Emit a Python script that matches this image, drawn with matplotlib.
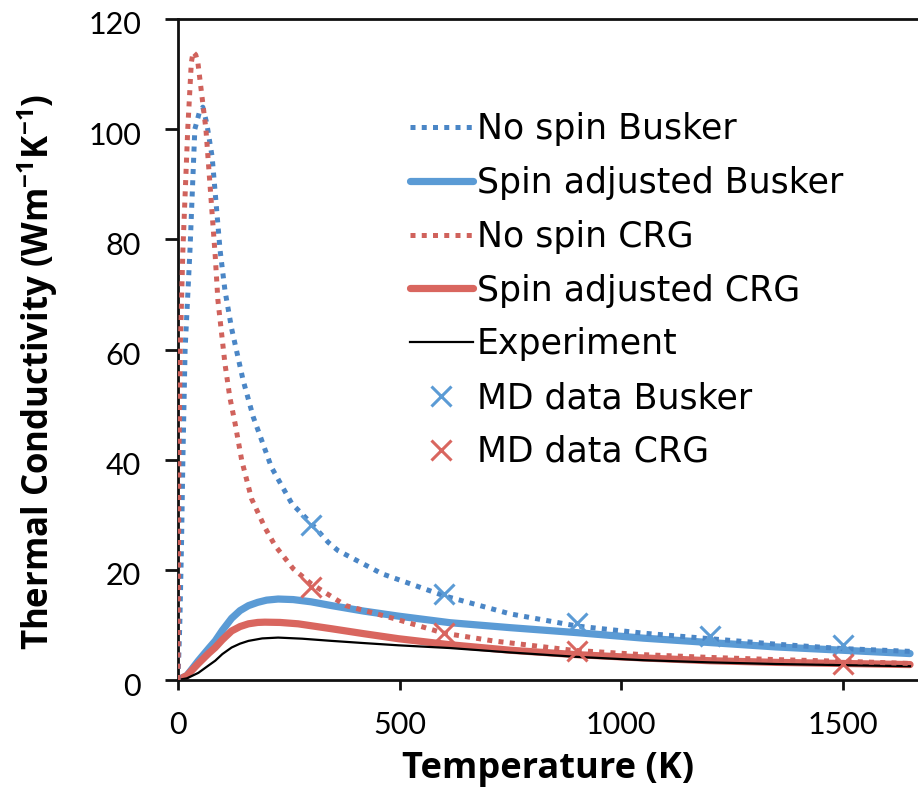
import matplotlib
matplotlib.use("Agg")
import matplotlib.pyplot as plt
import matplotlib.transforms as mtransforms

# ---- data ----
T_ns_busker = [0, 4, 8, 11, 16, 27, 38, 48, 56, 65, 77, 95, 106, 121, 147, 170, 211, 257, 300,
               339, 361, 460, 600, 750, 900, 1050, 1200, 1350, 1500, 1652]
K_ns_busker = [0, 10, 25, 40, 60, 78, 100, 103, 104, 101, 95, 78, 70.7, 63.8, 54.4, 47.7, 38.6, 32,
               28.5, 25, 23.5, 19.3, 15.3, 12.0, 9.8, 8.5, 7.5, 6.5, 5.7, 5.2]

T_ns_crg = [0, 2, 5, 11, 22, 30, 34, 40, 45, 63, 84, 90, 106, 117, 129, 144, 166, 196, 219, 260,
            300, 379, 490, 600, 711, 890, 1050, 1200, 1350, 1500, 1652]
K_ns_crg = [0, 40, 60, 78, 100, 112, 114, 113.5, 112, 100, 77, 69, 57.4, 51.3, 46.5, 39.8, 32.9,
            27.7, 24.4, 20.2, 17.5, 13.5, 11.1, 8.5, 7.1, 5.4, 4.6, 4.1, 3.7, 3.4, 3.0]

T_sp_busker = [0, 20, 46, 70, 84, 100, 121, 140, 159, 180, 200, 226, 260, 300, 347, 420, 497, 614,
               750, 900, 1050, 1200, 1350, 1500, 1652]
K_sp_busker = [0, 0.8, 3.5, 5.8, 7.1, 9.0, 11.2, 12.6, 13.5, 14.1, 14.5, 14.7, 14.6, 14.2, 13.5,
               12.5, 11.6, 10.4, 9.5, 8.6, 7.6, 6.8, 6.0, 5.4, 4.8]

T_sp_crg = [0, 20, 46, 70, 84, 100, 121, 140, 159, 180, 196, 230, 271, 347, 420, 497, 614, 750,
            900, 1050, 1200, 1350, 1500, 1652]
K_sp_crg = [0, 0.8, 3.0, 4.9, 5.9, 7.3, 8.9, 9.7, 10.2, 10.45, 10.5, 10.45, 10.2, 9.3, 8.4, 7.5,
            6.4, 5.4, 4.6, 4.0, 3.5, 3.2, 3.0, 2.8]

T_exp = [0, 20, 46, 70, 84, 100, 121, 140, 159, 190, 226, 280, 347, 420, 497, 614, 750, 900,
         1050, 1200, 1350, 1500, 1652]
K_exp = [0, 0.3, 1.3, 2.7, 3.5, 4.7, 5.9, 6.6, 7.1, 7.55, 7.7, 7.5, 7.1, 6.7, 6.3, 5.8, 5.0, 4.2,
         3.6, 3.2, 2.9, 2.7, 2.5]

T_md_busker = [300, 600, 900, 1200, 1500]
K_md_busker = [28.2, 15.6, 10.4, 8.0, 6.3]

T_md_crg = [300, 600, 900, 1500]
K_md_crg = [16.9, 8.6, 5.2, 2.9]

x_ticks = [0, 500, 1000, 1500]
y_ticks = [0, 20, 40, 60, 80, 100, 120]

# ---- style ----
plt.rcParams['mathtext.fontset'] = 'custom'
plt.rcParams['mathtext.rm'] = 'Open Sans:bold'
plt.rcParams['mathtext.default'] = 'rm'

blue_dot = '#4a86c6'
blue = '#5b9bd5'
red_dot = '#d0625c'
red = '#d9665f'

fig = plt.figure(figsize=(9.18, 7.89), dpi=100)
ax = fig.add_axes([178 / 918, 1 - 680 / 789, 1 - 178 / 918, (680 - 19) / 789])

ax.plot(T_ns_busker, K_ns_busker, color=blue_dot, lw=3.6, linestyle=(0, (1, 1.25)),
        dash_capstyle='butt', label='No spin Busker', zorder=3)
ax.plot(T_sp_busker, K_sp_busker, color=blue, lw=5.2, solid_capstyle='round',
        solid_joinstyle='round', label='Spin adjusted Busker', zorder=2)
ax.plot(T_ns_crg, K_ns_crg, color=red_dot, lw=3.6, linestyle=(0, (1, 1.25)),
        dash_capstyle='butt', label='No spin CRG', zorder=3)
ax.plot(T_sp_crg, K_sp_crg, color=red, lw=5.2, solid_capstyle='round',
        solid_joinstyle='round', label='Spin adjusted CRG', zorder=2)
ax.plot(T_exp, K_exp, color='black', lw=1.6, label='Experiment', zorder=2)
ax.plot(T_md_busker, K_md_busker, linestyle='none', marker='x', ms=14, mew=2.2,
        color=blue, label='MD data Busker', zorder=4)
ax.plot(T_md_crg, K_md_crg, linestyle='none', marker='x', ms=14, mew=2.2,
        color=red, label='MD data CRG', zorder=4)

ax.set_xlim(0, 1670)
ax.set_ylim(0, 120)
ax.set_xticks(x_ticks)
ax.set_yticks(y_ticks)

for side in ['left', 'bottom', 'top']:
    ax.spines[side].set_linewidth(2.0)
    ax.spines[side].set_color('#111111')
ax.spines['right'].set_visible(False)

ax.tick_params(axis='both', direction='out', width=2.0, color='#111111', labelsize=22)
ax.tick_params(axis='x', length=7.5, pad=15)
ax.tick_params(axis='y', length=9.5, pad=17)
shift = mtransforms.ScaledTranslation(0, -4 / 100, fig.dpi_scale_trans)
for lab in ax.get_yticklabels():
    lab.set_fontfamily('Lato')
    lab.set_transform(lab.get_transform() + shift)
for lab in ax.get_xticklabels():
    lab.set_fontfamily('Lato')

ax.set_xlabel('Temperature (K)', fontfamily='Open Sans', fontweight='bold', fontsize=26)
ax.set_ylabel('Thermal Conductivity (Wm$^{-1}$K$^{-1}$)', fontfamily='Open Sans',
              fontweight='bold', fontsize=25)
ax.xaxis.set_label_coords(0.5, (679 - 750) / 660)
ax.yaxis.set_label_coords((60 - 178) / 740, (679 - 371) / 660)

leg = ax.legend(loc='upper left', bbox_to_anchor=((410 - 178) / 740, (679 - 112) / 660),
                frameon=False, prop={'family': 'DejaVu Sans', 'size': 25},
                handlelength=1.8, handletextpad=0.12, labelspacing=0.57,
                borderaxespad=0, borderpad=0)

fig.savefig('out.png', dpi=100)
